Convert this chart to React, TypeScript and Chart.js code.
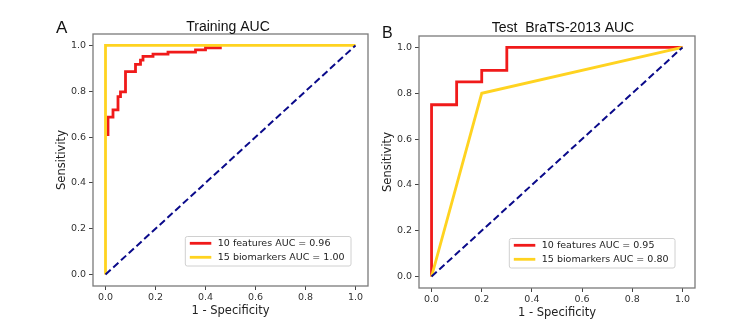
import React, { useEffect, useRef } from 'react';
import { Chart, registerables } from 'chart.js';

Chart.register(...registerables);

// ---------- data ----------
const tickValues = [0, 0.2, 0.4, 0.6, 0.8, 1.0];
const seriesNames = ['10 features', '15 biomarkers'];
const trainAuc = [0.96, 1.0];
const testAuc = [0.95, 0.8];

// Training ROC, 10 features
const trainFeatFpr = [0.01, 0.01, 0.03, 0.03, 0.05, 0.05, 0.06, 0.06, 0.08, 0.08, 0.12, 0.12, 0.14, 0.14, 0.15, 0.15, 0.19, 0.19, 0.25, 0.25, 0.36, 0.36, 0.40, 0.40, 0.465];
const trainFeatTpr = [0.605, 0.687, 0.687, 0.719, 0.719, 0.777, 0.777, 0.797, 0.797, 0.886, 0.886, 0.917, 0.917, 0.936, 0.936, 0.952, 0.952, 0.962, 0.962, 0.971, 0.971, 0.981, 0.981, 0.99, 0.99];
// Training ROC, 15 biomarkers
const trainBioFpr = [0, 0, 1];
const trainBioTpr = [0, 1, 1];
// Test ROC, 10 features
const testFeatFpr = [0, 0, 0.1, 0.1, 0.2, 0.2, 0.3, 0.3, 1];
const testFeatTpr = [0, 0.75, 0.75, 0.85, 0.85, 0.9, 0.9, 1, 1];
// Test ROC, 15 biomarkers
const testBioFpr = [0, 0.2, 1];
const testBioTpr = [0, 0.8, 1];
// chance line
const chanceFpr = [0, 1];
const chanceTpr = [0, 1];

// ---------- styles ----------
const RED = '#f01a1a';
const GOLD = '#ffd320';
const NAVY = '#0a0a8a';
const TICK_FONT = { family: '"DejaVu Sans", sans-serif', size: 9.5 };
const AXIS_FONT = { family: '"DejaVu Sans", sans-serif', size: 11.5 };

const zip = (xs: number[], ys: number[]) => xs.map((x, i) => ({ x, y: ys[i] }));

type PanelProps = {
  left: number;
  width: number;
  area: { l: number; t: number; r: number; b: number };
  letter: string;
  letterPos: { x: number; y: number; size: number };
  title: string;
  titlePos: { x: number; y: number };
  featFpr: number[];
  featTpr: number[];
  bioFpr: number[];
  bioTpr: number[];
  aucs: number[];
  legendInset: { r: number; b: number };
  yTitlePad: number;
  xTitlePad: number;
};

const H = 333;

function Panel(p: PanelProps) {
  const ref = useRef<HTMLCanvasElement | null>(null);
  useEffect(() => {
    if (!ref.current) return;
    const labels = seriesNames.map((n, i) => `${n} AUC = ${p.aucs[i].toFixed(2)}`);
    const colors = [RED, GOLD];
    const decor = {
      id: 'decor',
      afterDraw(chart: any) {
        const ctx = chart.ctx as CanvasRenderingContext2D;
        const ca = chart.chartArea;
        ctx.save();
        // frame
        ctx.strokeStyle = '#7a7a7a';
        ctx.lineWidth = 1.3;
        ctx.strokeRect(ca.left, ca.top, ca.right - ca.left, ca.bottom - ca.top);
        // title
        ctx.fillStyle = '#111';
        ctx.font = '14px "Liberation Sans", Arial, sans-serif';
        ctx.textAlign = 'center';
        ctx.textBaseline = 'alphabetic';
        ctx.fillText(p.title, p.titlePos.x, p.titlePos.y);
        // panel letter
        ctx.font = `${p.letterPos.size}px "Liberation Sans", Arial, sans-serif`;
        ctx.textAlign = 'left';
        ctx.fillText(p.letter, p.letterPos.x, p.letterPos.y);
        // legend
        ctx.font = '9.5px "DejaVu Sans", sans-serif';
        const tw = Math.max(...labels.map((t) => ctx.measureText(t).width));
        const boxW = 4.5 + 21.5 + 7 + tw + 6;
        const boxH = 29.5;
        const bx = ca.right - p.legendInset.r - boxW;
        const by = ca.bottom - p.legendInset.b - boxH;
        ctx.beginPath();
        (ctx as any).roundRect(bx, by, boxW, boxH, 2);
        ctx.fillStyle = 'rgba(255,255,255,0.85)';
        ctx.fill();
        ctx.strokeStyle = '#d0d0d0';
        ctx.lineWidth = 1;
        ctx.stroke();
        labels.forEach((t, i) => {
          const y = by + 6.8 + i * 14;
          ctx.strokeStyle = colors[i];
          ctx.lineWidth = 2.8;
          ctx.beginPath();
          ctx.moveTo(bx + 4.5, y);
          ctx.lineTo(bx + 26, y);
          ctx.stroke();
          ctx.fillStyle = '#222';
          ctx.textBaseline = 'middle';
          ctx.fillText(t, bx + 32.5, y + 0.5);
        });
        ctx.restore();
      },
    };
    const tickOpts = {
      font: TICK_FONT,
      color: '#333',
      autoSkip: false,
      maxRotation: 0,
      callback: (v: any) => Number(v).toFixed(1),
    };
    const gridOpts = {
      display: true,
      drawOnChartArea: false,
      drawTicks: true,
      tickLength: 4,
      tickColor: '#444',
      tickWidth: 1,
    };
    const setTicks = (s: any) => {
      s.ticks = tickValues.map((v) => ({ value: v }));
    };
    const chart = new Chart(ref.current, {
      type: 'scatter',
      data: {
        datasets: [
          {
            label: seriesNames[0],
            data: zip(p.featFpr, p.featTpr),
            showLine: true,
            borderColor: RED,
            backgroundColor: RED,
            borderWidth: 2.8,
            pointRadius: 0,
            order: 3,
          },
          {
            label: seriesNames[1],
            data: zip(p.bioFpr, p.bioTpr),
            showLine: true,
            borderColor: GOLD,
            backgroundColor: GOLD,
            borderWidth: 2.8,
            pointRadius: 0,
            order: 2,
          },
          {
            label: 'chance',
            data: zip(chanceFpr, chanceTpr),
            showLine: true,
            borderColor: NAVY,
            backgroundColor: NAVY,
            borderWidth: 2,
            borderDash: [7, 3.5],
            pointRadius: 0,
            order: 1,
          },
        ],
      },
      options: {
        animation: false,
        responsive: false,
        devicePixelRatio: 1,
        layout: {
          padding: { left: 0, top: p.area.t, right: p.width - p.area.r, bottom: 0 },
        },
        plugins: {
          legend: { display: false },
          title: { display: false },
          tooltip: { enabled: false },
        },
        scales: {
          x: {
            type: 'linear',
            min: -0.05,
            max: 1.05,
            afterBuildTicks: setTicks,
            afterFit: (s: any) => {
              s.height = H - p.area.b;
            },
            grid: gridOpts,
            border: { display: false },
            ticks: { ...tickOpts, padding: 2 },
            title: {
              display: true,
              text: '1 - Specificity',
              font: AXIS_FONT,
              color: '#222',
              padding: { top: 0, bottom: p.xTitlePad },
            },
          },
          y: {
            type: 'linear',
            min: -0.05,
            max: 1.05,
            afterBuildTicks: setTicks,
            afterFit: (s: any) => {
              s.width = p.area.l;
            },
            grid: gridOpts,
            border: { display: false },
            ticks: { ...tickOpts, padding: 3 },
            title: {
              display: true,
              text: 'Sensitivity',
              font: AXIS_FONT,
              color: '#222',
              padding: { top: p.yTitlePad, bottom: 0 },
            },
          },
        },
      } as any,
      plugins: [decor],
    });
    return () => chart.destroy();
  }, []);
  return (
    <canvas
      ref={ref}
      width={p.width}
      height={H}
      style={{ position: 'absolute', left: p.left, top: 0, width: p.width, height: H }}
    />
  );
}

export default function App() {
  return (
    <div style={{ position: 'absolute', left: 0, top: 0, width: 752, height: H, background: '#fff' }}>
      <Panel
        left={0}
        width={376}
        area={{ l: 93, t: 34, r: 368, b: 286 }}
        letter="A"
        letterPos={{ x: 56, y: 33, size: 17 }}
        title="Training AUC"
        titlePos={{ x: 228, y: 31 }}
        featFpr={trainFeatFpr}
        featTpr={trainFeatTpr}
        bioFpr={trainBioFpr}
        bioTpr={trainBioTpr}
        aucs={trainAuc}
        legendInset={{ r: 17, b: 20 }}
        yTitlePad={55}
        xTitlePad={15}
      />
      <Panel
        left={376}
        width={376}
        area={{ l: 43, t: 36, r: 319, b: 288 }}
        letter="B"
        letterPos={{ x: 6, y: 37.5, size: 16 }}
        title="Test  BraTS-2013 AUC"
        titlePos={{ x: 187, y: 31.5 }}
        featFpr={testFeatFpr}
        featTpr={testFeatTpr}
        bioFpr={testBioFpr}
        bioTpr={testBioTpr}
        aucs={testAuc}
        legendInset={{ r: 20, b: 20 }}
        yTitlePad={5.5}
        xTitlePad={13}
      />
    </div>
  );
}
